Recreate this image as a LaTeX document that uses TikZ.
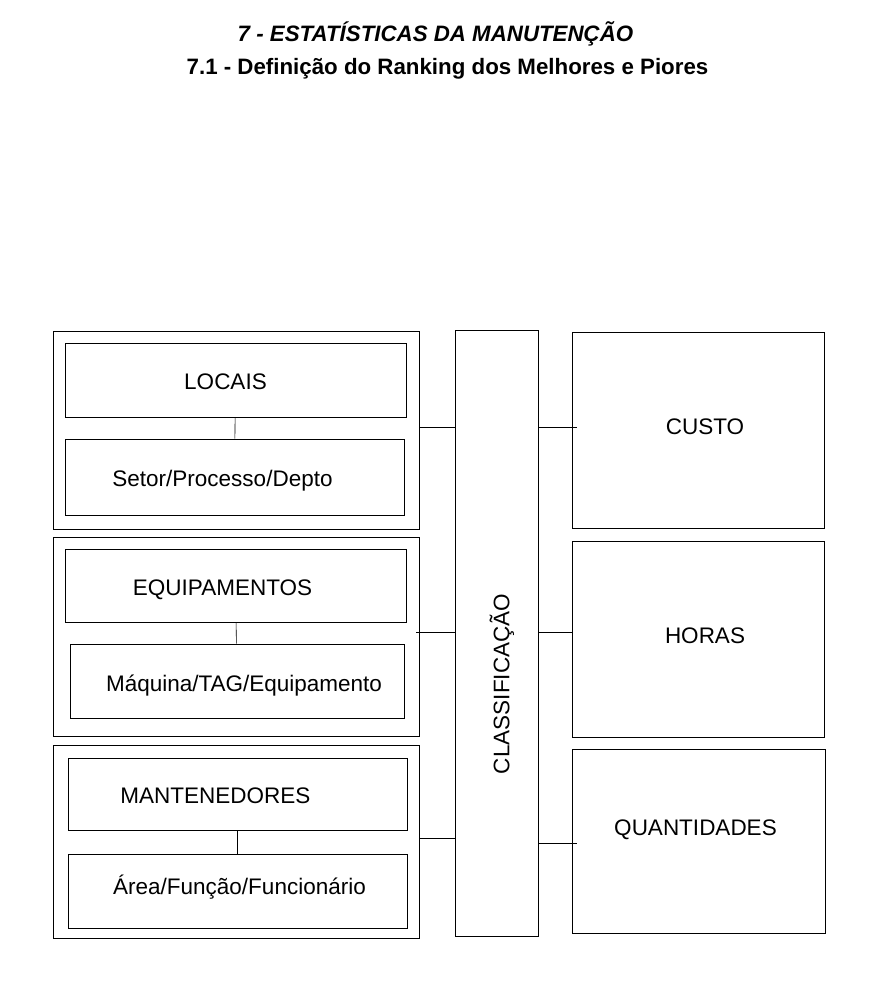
\documentclass[tikz,border=0pt]{standalone}
\usepackage{fontspec}
\setmainfont{Liberation Sans}
\tikzset{
    outer/.style={rectangle,draw,line width=0.9pt,inner sep=0pt},
    box/.style={rectangle,draw,line width=0.9pt,inner sep=0pt},
    txt/.style={font=\fontsize{22.5}{27}\selectfont,inner sep=0pt},
    link/.style={-,line width=0.9pt,draw=black},
    sublink/.style={-,line width=0.6pt,draw=black},
}

\begin{document}
\begin{tikzpicture}[x=1pt,y=-1pt]
    \useasboundingbox (0,0) rectangle (872,988);
    \node[font=\fontsize{22.3}{26}\selectfont\bfseries\itshape] (t1) at (435.5,34) {7 - ESTATÍSTICAS DA MANUTENÇÃO};
    \node[font=\fontsize{22.3}{26}\selectfont\bfseries] (t2) at (447.5,69) {7.1 - Definição do Ranking dos Melhores e Piores};
    % left groups
    \node[outer,minimum width=366,minimum height=198] (l1) at (236,430) {};
    \node[box,minimum width=341,minimum height=74,label={[txt,xshift=-10pt,yshift=-2pt]center:LOCAIS}] (locais) at (235.5,380) {};
    \node[box,minimum width=339,minimum height=76,label={[txt,xshift=-12pt,yshift=-4pt]center:Setor/Processo/Depto}] (setor) at (234.5,477) {};
    \node[outer,minimum width=366,minimum height=199] (l2) at (236,636.5) {};
    \node[box,minimum width=341,minimum height=73,label={[txt,xshift=-13pt,yshift=-4pt]center:EQUIPAMENTOS}] (equip) at (235.5,585.5) {};
    \node[box,minimum width=334,minimum height=74,label={[txt,xshift=7pt,yshift=-5pt]center:Máquina/TAG/Equipamento}] (maquina) at (237,681) {};
    \node[outer,minimum width=366,minimum height=193] (l3) at (236,841.5) {};
    \node[box,minimum width=339,minimum height=72,label={[txt,xshift=-22pt,yshift=-2pt]center:MANTENEDORES}] (mant) at (237.5,794) {};
    \node[box,minimum width=339,minimum height=74,label={[txt,xshift=2pt,yshift=4pt]center:Área/Função/Funcionário}] (area) at (237.5,891) {};
    % middle
    \node[box,minimum width=83,minimum height=606,label={[txt,rotate=90,xshift=-51pt,yshift=-5.5pt]center:CLASSIFICAÇÃO}] (class) at (496.5,633) {};
    \node[box,minimum width=252,minimum height=196,label={[txt,xshift=7pt,yshift=3pt]center:CUSTO}] (custo) at (698,430) {};
    \node[box,minimum width=252,minimum height=196,label={[txt,xshift=7pt,yshift=3pt]center:HORAS}] (horas) at (698,639) {};
    \node[box,minimum width=253,minimum height=184,label={[txt,xshift=-3pt,yshift=11pt]center:QUANTIDADES}] (quant) at (698.5,841) {};
    \draw[sublink] (locais) --(setor);
    \draw[sublink] (equip) --(maquina);
    \draw[link] (mant) --(area);
    \draw[link] ([yshift=3pt]l1.east) --([yshift=3pt]l1.east -| class.west);
    \draw[link] ([xshift=-3pt,yshift=4.5pt]l2.east) --([yshift=4.5pt]l2.east -| class.west);
    \draw[link] ([yshift=3.5pt]l3.east) --([yshift=3.5pt]l3.east -| class.west);
    \draw[link] ([yshift=3pt]custo.west -| class.east) --([xshift=5pt,yshift=3pt]custo.west);
    \draw[link] ([yshift=7pt]horas.west -| class.east) --([yshift=7pt]horas.west);
    \draw[link] ([yshift=-2pt]quant.west -| class.east) --([xshift=5pt,yshift=-2pt]quant.west);
\end{tikzpicture}
\end{document}
